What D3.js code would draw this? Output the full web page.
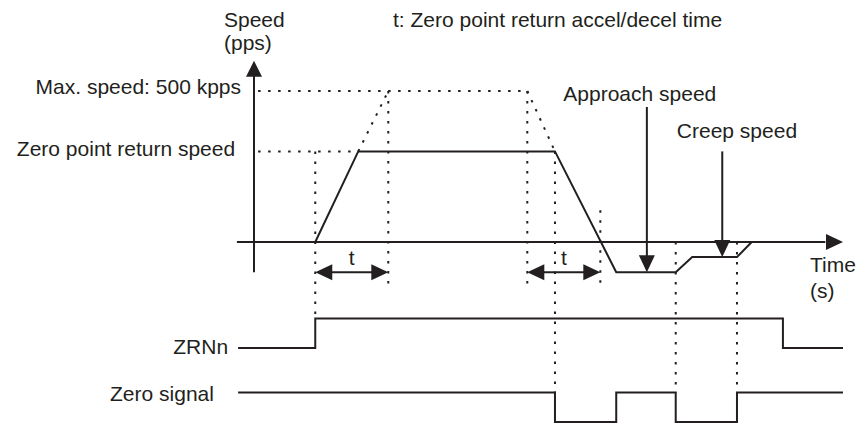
<!DOCTYPE html>
<html>
<head>
<meta charset="utf-8">
<script src="https://cdn.jsdelivr.net/npm/d3@7"></script>
<style>
  body { margin: 0; background: #fff; }
  text { font-family: "Liberation Sans", Arial, sans-serif; font-size: 21px; fill: #231f20; }
</style>
</head>
<body>
<div id="chart"></div>
<script>
// time in arbitrary units (0 = speed axis), speed in kpps
const speedProfile = [
    {t: 10.4, v: 0}, {t: 17.7, v: 300}, {t: 51.1, v: 300}, {t: 61.5, v: -100},
    {t: 71.6, v: -100}, {t: 74.4, v: -50}, {t: 82.0, v: -50}, {t: 84.5, v: 0}
];
const dottedRamps = [
    [{t: 17.7, v: 300}, {t: 22.8, v: 500}],
    [{t: 46.4, v: 500}, {t: 51.1, v: 300}]
];
const levelLines = [
    [{t: 0.7, v: 500}, {t: 46.4, v: 500}],
    [{t: 0.7, v: 300}, {t: 17.7, v: 300}]
];
const accelSpans = [[10.4, 22.8], [46.4, 58.8]];
const spanLevel = -100;

const signalNames = ["ZRNn", "Zero signal"];
const zrnSignal = [{t: -2.7, s: 0}, {t: 10.4, s: 1}, {t: 89.8, s: 0}, {t: 100, s: 0}];
const zeroSignal = [{t: -2.7, s: 1}, {t: 51.1, s: 0}, {t: 61.5, s: 1}, {t: 71.6, s: 0}, {t: 82.0, s: 1}, {t: 100, s: 1}];

// vertical guides: from a speed down to a speed or a signal level
const guides = [
    {t: 10.4, top: 300, row: "ZRNn", level: 1},
    {t: 22.8, top: 500, bottom: -150},
    {t: 46.4, top: 500, bottom: -150},
    {t: 51.1, top: 300, row: "Zero signal", level: 1},
    {t: 58.8, top: 105, bottom: -135},
    {t: 71.6, top: 0, row: "Zero signal", level: 1},
    {t: 82.0, top: 0, row: "Zero signal", level: 1}
];

const callouts = [
    {label: "Approach speed", t: 66.7, from: 447, to: -100, labelT: 65.5, labelV: 468},
    {label: "Creep speed", t: 79.5, from: 300, to: -50, labelT: 82.0, labelV: 343}
];

const width = 857, height = 423;
const svg = d3.select("#chart").append("svg")
    .attr("width", width)
    .attr("height", height);

const x = d3.scaleLinear().domain([0, 100]).range([254, 843]);
const y = d3.scaleLinear().domain([0, 500]).range([242, 91]);
const rowY = d3.scalePoint().domain(signalNames).range([348, 422]);
const levelY = d3.scaleLinear().domain([0, 1]).range([0, -29.5]);
const sigY = (row, s) => rowY(row) + levelY(s);

const ink = "#231f20";

const arrowHead = (g, px, py, dir, len = 17, half = 8) => {
    // dir: unit vector pointing to tip
    const [dx, dy] = dir;
    const bx = px - dx * len, by = py - dy * len;
    const pts = [[px, py], [bx - dy * half, by + dx * half], [bx + dy * half, by - dx * half]];
    g.append("path")
        .attr("d", "M" + pts.map(p => p.join(",")).join("L") + "Z")
        .attr("fill", ink);
};

// dotted guides
const dotted = svg.append("g")
    .attr("stroke", ink).attr("stroke-width", 2)
    .attr("stroke-dasharray", "2.5,7.5").attr("fill", "none");

guides.forEach(d => {
    const yb = d.row ? sigY(d.row, d.level) : y(d.bottom);
    dotted.append("line")
        .attr("x1", x(d.t)).attr("x2", x(d.t))
        .attr("y1", y(d.top)).attr("y2", yb);
});

const speedLine = d3.line().x(d => x(d.t)).y(d => y(d.v));
levelLines.concat(dottedRamps).forEach(seg => {
    dotted.append("path").attr("d", speedLine(seg));
});

// axes
const axes = svg.append("g").attr("stroke", ink).attr("stroke-width", 2);
axes.append("line")
    .attr("x1", x(0)).attr("x2", x(0))
    .attr("y1", y(-100)).attr("y2", y(560));
arrowHead(svg, x(0), y(600), [0, -1], 16, 8);
axes.append("line")
    .attr("x1", x(-2.9)).attr("x2", x(97))
    .attr("y1", y(0)).attr("y2", y(0));
arrowHead(svg, x(100), y(0), [1, 0], 17, 8);

// speed profile
svg.append("path")
    .attr("d", speedLine(speedProfile))
    .attr("fill", "none").attr("stroke", ink).attr("stroke-width", 2);

// accel/decel time spans
accelSpans.forEach(([a, b]) => {
    svg.append("line")
        .attr("x1", x(a) + 10).attr("x2", x(b) - 10)
        .attr("y1", y(spanLevel)).attr("y2", y(spanLevel))
        .attr("stroke", ink).attr("stroke-width", 2);
    arrowHead(svg, x(a), y(spanLevel), [-1, 0], 17, 8);
    arrowHead(svg, x(b), y(spanLevel), [1, 0], 17, 8);
    svg.append("text")
        .attr("x", x((a + b) / 2)).attr("y", y(spanLevel) - 7)
        .attr("text-anchor", "middle").text("t");
});

// callouts
callouts.forEach(c => {
    svg.append("line")
        .attr("x1", x(c.t)).attr("x2", x(c.t))
        .attr("y1", y(c.from)).attr("y2", y(c.to) - 12)
        .attr("stroke", ink).attr("stroke-width", 2);
    arrowHead(svg, x(c.t), y(c.to), [0, 1], 17, 8);
    svg.append("text")
        .attr("x", x(c.labelT)).attr("y", y(c.labelV))
        .attr("text-anchor", "middle").text(c.label);
});

// signals
const sigLine = row => d3.line().x(d => x(d.t)).y(d => sigY(row, d.s)).curve(d3.curveStepAfter);
[["ZRNn", zrnSignal], ["Zero signal", zeroSignal]].forEach(([row, data]) => {
    svg.append("path")
        .attr("d", sigLine(row)(data))
        .attr("fill", "none").attr("stroke", ink).attr("stroke-width", 2);
});

// labels
svg.append("text").attr("x", x(-5.1)).attr("y", 27).text("Speed");
svg.append("text").attr("x", x(-5.1)).attr("y", 50).text("(pps)");
svg.append("text").attr("x", x(23.6)).attr("y", 27).text("t: Zero point return accel/decel time");
svg.append("text").attr("x", x(-2.2)).attr("y", y(500) + 3).attr("text-anchor", "end").text("Max. speed: 500 kpps");
svg.append("text").attr("x", x(-3.2)).attr("y", y(300) + 5).attr("text-anchor", "end").text("Zero point return speed");
svg.append("text").attr("x", x(94.4)).attr("y", y(-100)).text("Time");
svg.append("text").attr("x", x(94.4)).attr("y", y(-100) + 26).text("(s)");
svg.append("text").attr("x", x(-4.4)).attr("y", sigY("ZRNn", 0) + 6).attr("text-anchor", "end").text("ZRNn");
svg.append("text").attr("x", x(-6.8)).attr("y", sigY("Zero signal", 1) + 8).attr("text-anchor", "end").text("Zero signal");
</script>
</body>
</html>
